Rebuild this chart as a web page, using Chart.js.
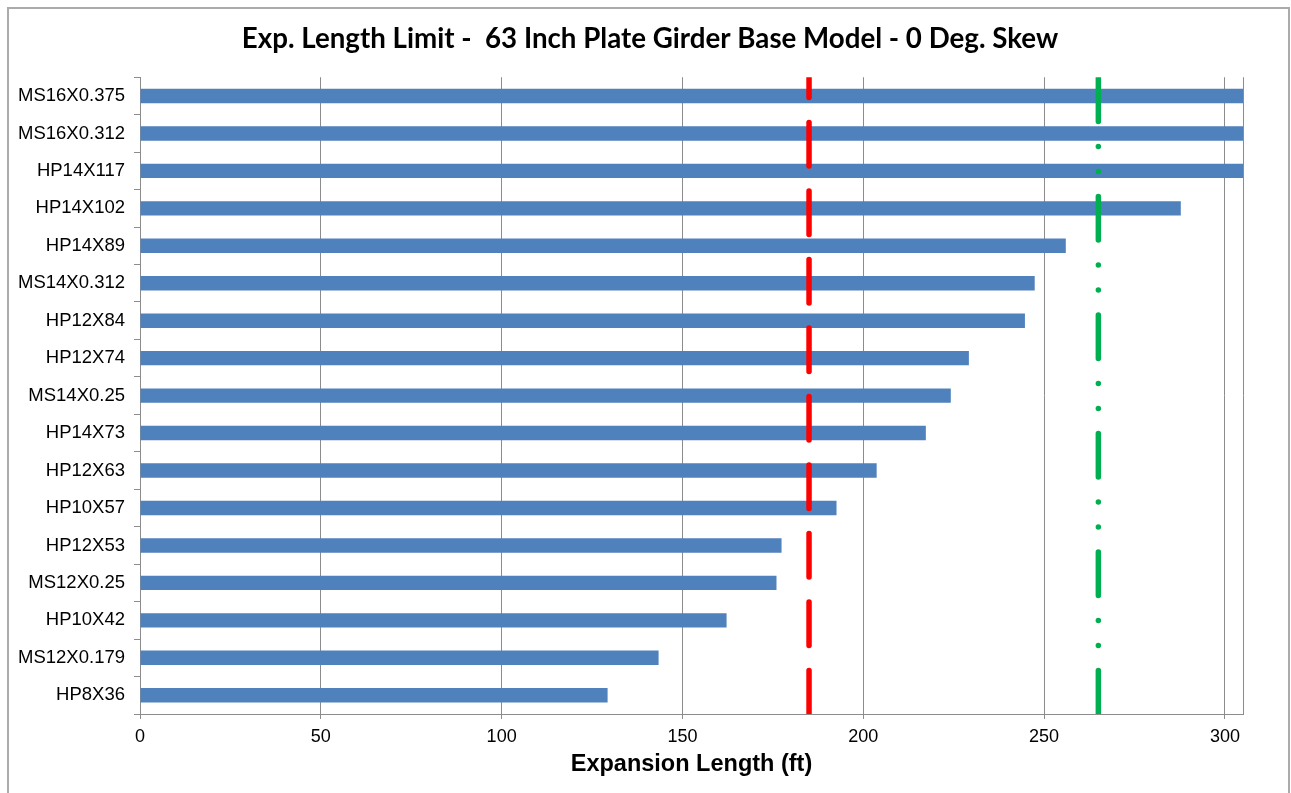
<!DOCTYPE html>
<html>
<head>
<meta charset="utf-8">
<title>Exp. Length Limit</title>
<script src="https://cdn.jsdelivr.net/npm/chart.js@4.4.1/dist/chart.umd.min.js"></script>
<style>
  html, body { margin: 0; padding: 0; background: #fff; overflow: hidden; }
  #wrap { position: relative; width: 1291px; height: 793px; }
  #frame { position: absolute; left: 7px; top: 7px; width: 1283px; height: 800px; border: 2px solid #ababab; box-sizing: border-box; pointer-events: none; }
  canvas { position: absolute; left: 0; top: 0; }
</style>
</head>
<body>
<div id="wrap">
  <canvas id="chart" width="1291" height="793"></canvas>
  <div id="frame"></div>
</div>
<script>
// pile sections, top to bottom
const categories = [
  'MS16X0.375', 'MS16X0.312', 'HP14X117', 'HP14X102', 'HP14X89', 'MS14X0.312',
  'HP12X84', 'HP12X74', 'MS14X0.25', 'HP14X73', 'HP12X63', 'HP10X57',
  'HP12X53', 'MS12X0.25', 'HP10X42', 'MS12X0.179', 'HP8X36'
];
// expansion length (ft); the first three run past the axis end
const expansionLengths = [
  330, 320, 310, 287.8, 256.0, 247.4,
  244.7, 229.2, 224.2, 217.3, 203.7, 192.6,
  177.4, 176.0, 162.2, 143.4, 129.3
];
const redLimit = [185, 185];
const greenLimit = [265, 265];
const limitSpan = [0, 1];
const xTicks = [0, 50, 100, 150, 200, 250, 300];
const xMax = 305;

const gridColor = '#8c8c8c';

// right edge of the plot area, like the Excel frame
const plotFrame = {
  id: 'plotFrame',
  beforeDatasetsDraw(chart) {
    const { ctx, chartArea } = chart;
    const x = Math.round(chartArea.right) + 0.5;
    ctx.save();
    ctx.strokeStyle = gridColor;
    ctx.lineWidth = 1;
    ctx.beginPath();
    ctx.moveTo(x, chartArea.top);
    ctx.lineTo(x, chartArea.bottom);
    ctx.stroke();
    ctx.restore();
  }
};

const limitLine = (xs, color, dash) => ({
  type: 'line',
  data: xs.map((x, i) => ({ x: x, y: limitSpan[i] })),
  xAxisID: 'x',
  yAxisID: 'yLim',
  indexAxis: 'x',
  borderColor: color,
  borderWidth: 5.5,
  borderDash: dash,
  borderCapStyle: 'round',
  pointRadius: 0,
  fill: false,
  clip: 0,
  order: 0
});

new Chart(document.getElementById('chart').getContext('2d'), {
  type: 'bar',
  data: {
    labels: categories,
    datasets: [
      {
        label: 'Expansion Length',
        data: expansionLengths,
        xAxisID: 'x',
        yAxisID: 'y',
        backgroundColor: '#4f81bd',
        grouped: false,
        barPercentage: 0.385,
        categoryPercentage: 1,
        order: 1
      },
      limitLine(redLimit, '#ff0000', [43.5, 25]),
      limitLine(greenLimit, '#00b050', [43.5, 25, 0, 25, 0, 25])
    ]
  },
  options: {
    indexAxis: 'y',
    responsive: false,
    animation: false,
    layout: { padding: { top: 7, left: 9, right: 0, bottom: 0 } },
    plugins: {
      legend: { display: false },
      tooltip: { enabled: false },
      title: {
        display: true,
        text: 'Exp. Length Limit -  63 Inch Plate Girder Base Model - 0 Deg. Skew',
        color: '#000',
        font: { family: 'Lato', size: 27.7, weight: 'bold', lineHeight: 1.2 },
        padding: { top: 15, bottom: 22 }
      }
    },
    scales: {
      x: {
        type: 'linear',
        position: 'bottom',
        min: 0,
        max: xMax,
        afterBuildTicks: (scale) => { scale.ticks = xTicks.map(v => ({ value: v })); },
        afterFit: (scale) => { scale.height = 79; },
        ticks: {
          color: '#000',
          padding: 7,
          font: { family: 'Liberation Sans', size: 18 }
        },
        grid: { color: gridColor, tickLength: 5, drawTicks: true },
        border: { color: gridColor },
        title: {
          display: true,
          text: 'Expansion Length (ft)',
          color: '#000',
          font: { family: 'Liberation Sans', size: 23.5, weight: 'bold', lineHeight: 1.2 },
          padding: { top: 2, bottom: 14 }
        }
      },
      y: {
        type: 'category',
        position: 'left',
        afterFit: (scale) => { scale.width = 131; },
        ticks: {
          color: '#000',
          padding: 9,
          font: { family: 'Liberation Sans', size: 18.5 }
        },
        grid: { drawOnChartArea: false, color: gridColor, tickLength: 6, offset: true },
        border: { color: gridColor }
      },
      // hidden 0..1 span for the limit lines; also reserves the right margin
      yLim: {
        type: 'linear',
        axis: 'y',
        position: 'right',
        display: true,
        offset: false,
        min: 0,
        max: 1,
        afterFit: (scale) => { scale.width = 48; },
        ticks: { display: false },
        grid: { display: false, drawTicks: false, offset: false },
        border: { display: false }
      }
    }
  },
  plugins: [plotFrame]
});
</script>
</body>
</html>
